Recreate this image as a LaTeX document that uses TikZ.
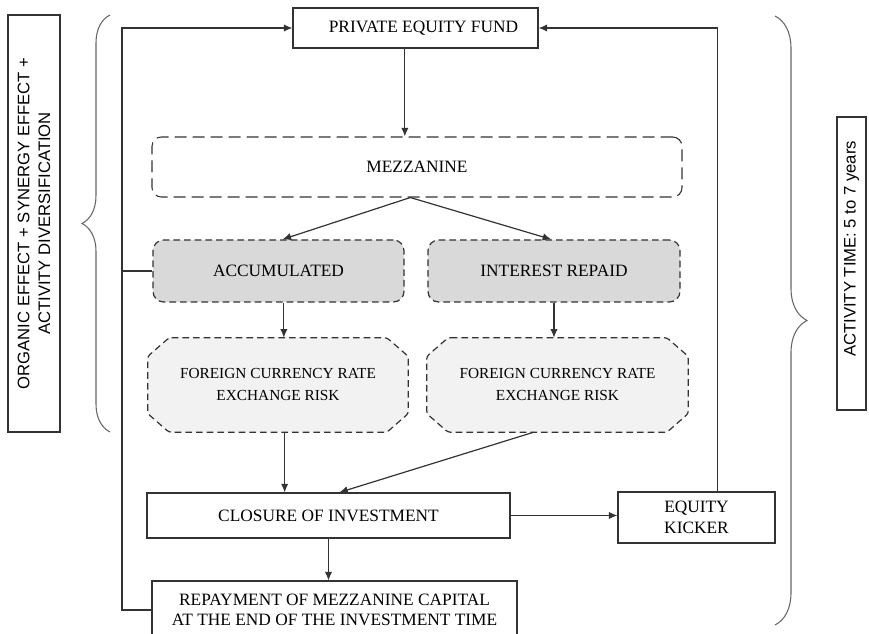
\documentclass[tikz,border=0pt]{standalone}
\usepackage{fontspec}
\setmainfont{Liberation Serif}
\newfontfamily\sidefont{Liberation Sans}
\usetikzlibrary{arrows.meta, backgrounds, decorations.pathreplacing}
\definecolor{edge-gray}{HTML}{333333}
\definecolor{rate-gray}{HTML}{D9D9D9}
\definecolor{risk-gray}{HTML}{F2F2F2}

% snipped-corner outline behind a named node
\newcommand{\snipframe}[1]{%
  \draw[riskline] ([xshift=16pt]#1.north west) -- ([xshift=-16pt]#1.north east)
    -- ([yshift=-14pt]#1.north east) -- ([yshift=14pt]#1.south east)
    -- ([xshift=-16pt]#1.south east) -- ([xshift=16pt]#1.south west)
    -- ([yshift=14pt]#1.south west) -- ([yshift=-14pt]#1.north west) -- cycle;}

\begin{document}
\begin{tikzpicture}[x=0.75pt, y=-0.75pt,
        every node/.style={font=\fontsize{13}{15.5}\selectfont, text=black},
        plain/.style={draw=edge-gray, line width=0.8pt, align=center},
        mezzbox/.style={draw=edge-gray, line width=0.8pt, rounded corners=7pt,
            dash pattern=on 9pt off 4.5pt},
        ratebox/.style={draw=edge-gray, line width=0.9pt, fill=rate-gray,
            rounded corners=8pt, dash pattern=on 5pt off 3pt},
        riskbox/.style={align=center, font=\fontsize{11.5}{16.5}\selectfont},
        riskline/.style={draw=edge-gray, line width=0.9pt, fill=risk-gray,
            rounded corners=2pt, dash pattern=on 5pt off 3pt},
        sidebox/.style={draw=edge-gray, line width=0.8pt, rotate=90, align=center,
            font=\sidefont\fontsize{12.5}{15.5}\selectfont},
        arr/.style={-{Latex[length=6.5pt,width=5.5pt]}, line width=0.9pt, draw=edge-gray},
        link/.style={line width=0.9pt, draw=edge-gray},
        curly/.style={decorate, draw=black!60, line width=0.8pt}]
      \useasboundingbox (0,0) rectangle (869,634);

      % side notes
      \node[sidebox, minimum width=312.75pt, minimum height=39pt]
            (org) at (34,223.5) {ORGANIC EFFECT + SYNERGY EFFECT +\\ACTIVITY DIVERSIFICATION};
      \node[sidebox, minimum width=219.75pt, minimum height=21.75pt,
            font=\sidefont\fontsize{12.5}{14}\selectfont]
            (time) at (851.5,263.5) {\hspace*{22pt}ACTIVITY TIME: 5 to 7 years};
      \draw[curly, decoration={brace, amplitude=21pt}] (110,432) -- (110,15);
      \draw[curly, decoration={brace, amplitude=24pt}] (775,16) -- (775,625);

      % main flow
      \node[plain, minimum width=183.75pt, minimum height=30pt]
            (pef) at (415.5,28) {\hspace*{12pt}PRIVATE EQUITY FUND};
      \node[mezzbox, minimum width=397.5pt, minimum height=45pt]
            (mezz) at (417,167) {MEZZANINE};
      \node[ratebox, minimum width=188.25pt, minimum height=46.5pt]
            (acc) at (278.5,271) {ACCUMULATED};
      \node[ratebox, minimum width=189pt, minimum height=46.5pt]
            (irep) at (554,271) {INTEREST REPAID};
      \node[riskbox, minimum width=195pt, minimum height=70.5pt]
            (fxl) at (278,385) {FOREIGN CURRENCY RATE\\EXCHANGE RISK};
      \node[riskbox, minimum width=195.75pt, minimum height=70.5pt]
            (fxr) at (557.5,385) {FOREIGN CURRENCY RATE\\EXCHANGE RISK};
      \begin{scope}[on background layer]
        \snipframe{fxl}
        \snipframe{fxr}
      \end{scope}
      \node[plain, minimum width=272.25pt, minimum height=33.75pt]
            (close) at (328.5,515.5) {CLOSURE OF INVESTMENT};
      \node[plain, minimum width=117.75pt, minimum height=38.25pt]
            (kick) at (696.5,517.5) {EQUITY\\KICKER};
      \node[plain, minimum width=273.75pt, minimum height=43.5pt]
            (repay) at (334.5,610) {REPAYMENT OF MEZZANINE CAPITAL\\AT THE END OF THE INVESTMENT TIME};
      \coordinate (back) at (122,28);

      \draw[arr] ([xshift=-8pt]pef.south) -- ([xshift=-8pt]pef.south |- mezz.north);
      \draw[arr] ([xshift=-5pt]mezz.south) -- ([xshift=3pt]acc.north);
      \draw[arr] ([xshift=-5pt]mezz.south) -- ([xshift=-2pt]irep.north);
      \draw[arr] ([xshift=4pt]acc.south) -- ([xshift=4pt]acc.south |- fxl.north);
      \draw[arr] (irep.south) -- (irep.south |- fxr.north);
      \draw[arr] ([xshift=5pt]fxl.south) -- ([xshift=5pt]fxl.south |- close.north);
      \draw[arr] ([xshift=-18pt]fxr.south) -- ([xshift=8pt]close.north);
      \draw[arr] (close.east) -- (close.east -| kick.west);
      \draw[arr] (close.south) -- (close.south |- repay.north);
      \draw[arr] ([xshift=16pt]kick.north) |- (pef.east);
      \draw[arr] (repay.west) -| (back) -- (pef.west);
      \draw[link] (acc.west) -- (acc.west -| back);
    \end{tikzpicture}
\end{document}
